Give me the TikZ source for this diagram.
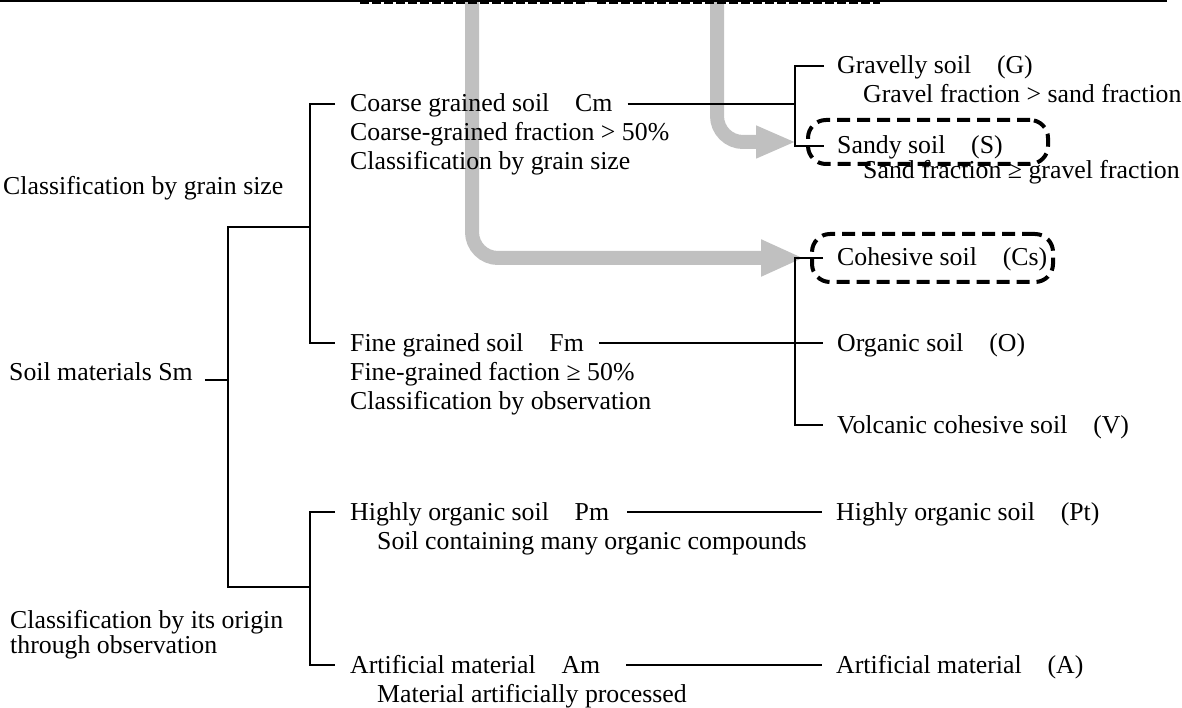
\documentclass[tikz,border=0pt]{standalone}
\usepackage{fontspec}
\setmainfont{Liberation Serif}
\usetikzlibrary{arrows.meta}
\definecolor{arrowgray}{RGB}{192,192,192}
\begin{document}
\begin{tikzpicture}[x=1pt,y=-1pt,
  lbl/.style={anchor=west, inner sep=0pt, text height=16pt, text depth=0pt,
              font=\fontsize{25.8}{29}\selectfont},
  tree/.style={line width=2pt},
  grayarrow/.style={draw=arrowgray, line width=14pt, rounded corners=26pt},
  hilite/.style={draw, line width=4pt, dash pattern=on 13pt off 7pt,
                 rounded corners=18pt, inner sep=0pt},
  toprule/.style={line width=2pt},
  fragment/.style={line width=5pt, dash pattern=on 9pt off 3pt},
]
\useasboundingbox (0,0) rectangle (1182,708);

% highlighted boxes (named so the arrows can end at them)
\node[hilite, minimum width=240pt, minimum height=44pt] (sbox) at (928,142) {};
\node[hilite, minimum width=241pt, minimum height=48pt] (csbox) at (932.5,258) {};

% gray arrows (drawn first, behind text and lines)
\coordinate (topA) at (472,-2);
\coordinate (topB) at (717,-2);
\draw[grayarrow, -{Triangle[length=43pt,width=34pt]}] (topA) |- ([xshift=-6pt]csbox.west);
\draw[grayarrow, -{Triangle[length=40pt,width=30pt]}] (topB) |- ([xshift=-10pt]sbox.west);

% top rule and cut-off fragments
\coordinate (r0) at (0,1);
\coordinate (r1) at (1167,1);
\draw[toprule] (r0) -- (r1);
\coordinate (f0) at (360,2);
\coordinate (f1) at (588,2);
\coordinate (f2) at (597,2);
\coordinate (f3) at (880,2);
\draw[fragment] (f0) -- (f1);
\draw[fragment] (f2) -- (f3);

% left column
\node[lbl] (gs)  at (3,187)  {Classification by grain size};
\node[lbl] (sm)  at (9,372)  {Soil materials Sm};
\node[lbl] (or1) at (10,620) {Classification by its origin};
\node[lbl] (or2) at (10,645) {through observation};

% middle column
\node[lbl] (cm)  at (350,104) {Coarse grained soil\quad Cm};
\node[lbl] (cm2) at (350,133) {Coarse-grained fraction > 50\%};
\node[lbl] (cm3) at (350,162) {Classification by grain size};
\node[lbl] (fm)  at (350,343) {Fine grained soil\quad Fm};
\node[lbl] (fm2) at (350,372) {Fine-grained faction ≥ 50\%};
\node[lbl] (fm3) at (350,401) {Classification by observation};
\node[lbl] (pm)  at (350,512) {Highly organic soil\quad Pm};
\node[lbl] (pm2) at (377,541) {Soil containing many organic compounds};
\node[lbl] (am)  at (350,665) {Artificial material\quad Am};
\node[lbl] (am2) at (377,694) {Material artificially processed};

% right column
\node[lbl] (g)  at (837,66)  {Gravelly soil\quad(G)};
\node[lbl] (g2) at (863,95)  {Gravel fraction > sand fraction};
\node[lbl] (s)  at (837,146) {Sandy soil\quad(S)};
\node[lbl] (s2) at (863,171) {Sand fraction ≥ gravel fraction};
\node[lbl] (cs) at (837,258) {Cohesive soil\quad(Cs)};
\node[lbl] (o)  at (837,343) {Organic soil\quad(O)};
\node[lbl] (v)  at (837,425) {Volcanic cohesive soil\quad(V)};
\node[lbl] (pt) at (836,512) {Highly organic soil\quad(Pt)};
\node[lbl] (a)  at (836,665) {Artificial material\quad(A)};

% tree connectors
\coordinate (smJ) at (228,380);
\coordinate (uJ) at (310,227);
\coordinate (lJ) at (310,587);
\coordinate (gJ) at (795,104);
\draw[tree] ([xshift=12pt]sm.base east) -- (smJ);
\draw[tree] (uJ) -| (smJ) |- (lJ);
\draw[tree] ([xshift=-15pt]cm.west) -- ++(-25,0) |- ([xshift=-15pt]fm.west);
\draw[tree] ([xshift=-15pt]pm.west) -- ++(-25,0) |- ([xshift=-15pt]am.west);

\draw[tree] ([xshift=15pt]cm.east) -- (gJ);
\draw[tree] ([xshift=-13pt]g.west) -- ++(-29,0) |- ([xshift=-13pt]s.west);
\draw[tree] ([xshift=15pt]fm.east) -- ([xshift=-14pt]o.west);
\draw[tree] ([xshift=-14pt]cs.west) -- ++(-28,0) |- ([xshift=-14pt]v.west);
\draw[tree] ([xshift=18pt]pm.east) -- ([xshift=-14pt]pt.west);
\draw[tree] ([xshift=26pt]am.east) -- ([xshift=-14pt]a.west);
\end{tikzpicture}
\end{document}
